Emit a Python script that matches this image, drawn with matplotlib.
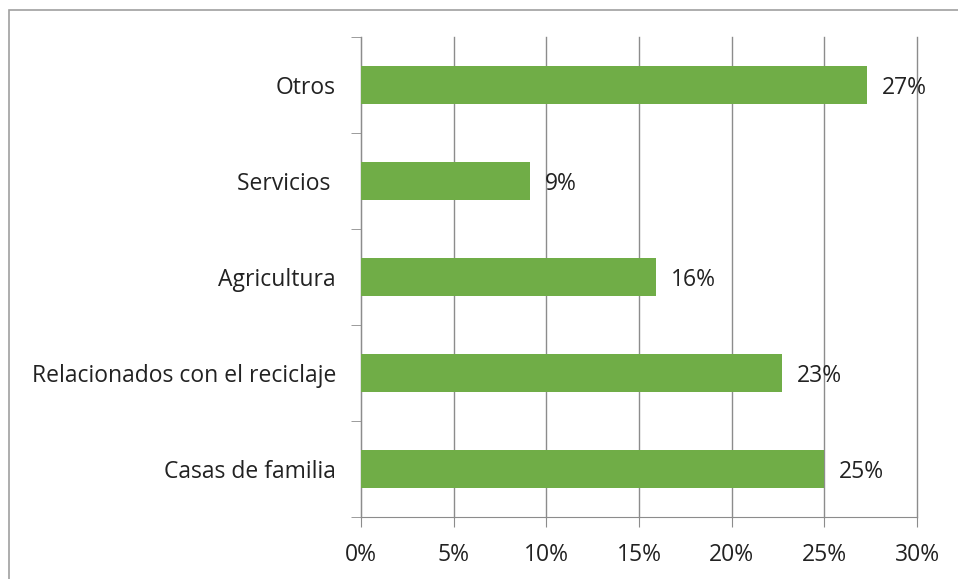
import matplotlib.pyplot as plt
from matplotlib.patches import Rectangle

categorias = ['Casas de familia', 'Relacionados con el reciclaje', 'Agricultura', 'Servicios ', 'Otros']
valores = [25.0, 22.7, 15.9, 9.1, 27.3]
etiquetas = ['25%', '23%', '16%', '9%', '27%']
ticks_x = [0, 5, 10, 15, 20, 25, 30]

plt.rcParams['font.family'] = ['Open Sans', 'DejaVu Sans']
fs = 16.5

fig = plt.figure(figsize=(9.58, 5.79), dpi=100)
ax = fig.add_axes([361/958, 1 - 517/579, (917 - 361)/958, (517 - 37)/579])

# marco exterior del grafico
fig.patches.append(Rectangle((9/958, -0.05), 1.0, (1 - 10/579) + 0.05,
                             transform=fig.transFigure, fill=False,
                             edgecolor='#a0a0a0', linewidth=1.2))

y = list(range(len(categorias)))
ax.barh(y, valores, height=0.4, color='#70ad47', zorder=3)
for yi, v, t in zip(y, valores, etiquetas):
    ax.text(v + 0.8, yi - 0.03, t, va='center', ha='left', fontsize=fs, color='#222222', zorder=4)

ax.set_xlim(0, 30)
ax.set_ylim(-0.5, len(categorias) - 0.5)
ax.set_xticks(ticks_x)
ax.set_xticklabels([f'{t}%' for t in ticks_x], fontsize=fs, color='#222222')
ax.set_yticks(y)
ax.set_yticklabels(categorias, fontsize=fs, color='#222222')
ax.set_yticks([i - 0.5 for i in range(len(categorias) + 1)], minor=True)
ax.tick_params(axis='y', which='major', length=0, pad=18)
ax.tick_params(axis='y', which='minor', length=7, color='#8c8c8c', direction='out')
ax.tick_params(axis='x', length=7, color='#8c8c8c', pad=12)
ax.grid(axis='x', color='#8c8c8c', linewidth=1, zorder=0)
for gl in ax.get_xgridlines():
    gl.set_clip_on(False)

for s in ['top', 'right']:
    ax.spines[s].set_visible(False)
ax.spines['left'].set_color('#8c8c8c')
ax.spines['bottom'].set_color('#8c8c8c')

fig.savefig('out.png', dpi=100)
